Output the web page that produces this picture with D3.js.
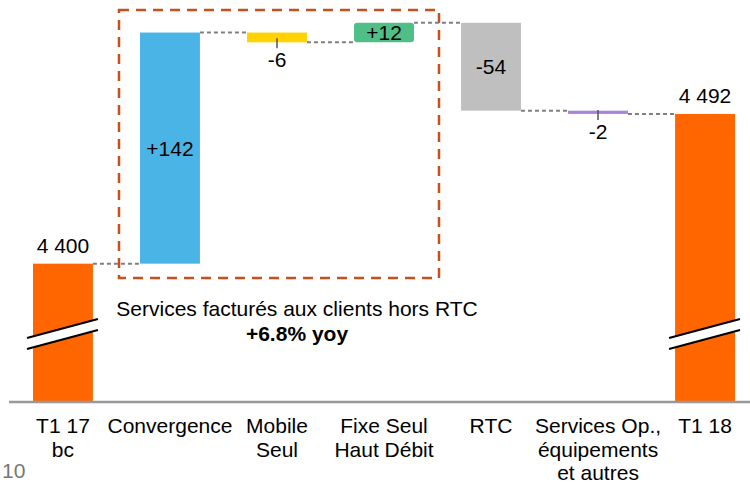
<!DOCTYPE html>
<meta charset="utf-8">
<style>
    body { margin: 0; background: #fff; }
    svg { font-family: "Liberation Sans", Arial, sans-serif; }
    .conn { stroke: #808080; stroke-width: 2; stroke-dasharray: 4,3; fill: none; }
    .lbl { font-size: 21px; fill: #000; text-anchor: middle; }
    .axis text { font-size: 21px; fill: #000; }
</style>
<svg width="750" height="483"></svg>
<script src="https://cdn.jsdelivr.net/npm/d3@7"></script>
<script>

    var categories = ["T1 17|bc", "Convergence", "Mobile|Seul", "Fixe Seul|Haut Débit", "RTC", "Services Op.,|équipements|et autres", "T1 18"];
    var values = [4400, 142, -6, 12, -54, -2, 4492];
    var kinds = ["total", "delta", "delta", "delta", "delta", "delta", "total"];
    var labels = ["4 400", "+142", "-6", "+12", "-54", "-2", "4 492"];
    var colors = ["#ff6600", "#4bb4e6", "#ffd200", "#50be87", "#bfbfbf", "#a885d8", "#ff6600"];

    var svg = d3.select("svg"),
        baseY = 402;

    // build running totals
    var data = [], run = 0;
    values.forEach(function(v, i) {
        var d = {cat: categories[i], label: labels[i], color: colors[i], kind: kinds[i]};
        if (kinds[i] == "total") { d.start = null; d.end = v; run = v; }
        else { d.start = run; d.end = run + v; run = d.end; }
        data.push(d);
    });

    var x = d3.scaleBand()
        .domain(categories)
        .range([33, 735])
        .paddingInner(0.44)
        .paddingOuter(0);

    var y = d3.scaleLinear()
        .domain([4315, 4562])
        .range([baseY, 0]);

    // dashed highlight box
    svg.append("rect")
        .attr("x", 119).attr("y", 10)
        .attr("width", 320).attr("height", 268)
        .attr("fill", "none")
        .attr("stroke", "#c8501e")
        .attr("stroke-width", 2.5)
        .attr("stroke-dasharray", "10,7");

    // connectors
    for (var i = 0; i < data.length - 1; i++) {
        var lv = data[i].end;
        svg.append("line").attr("class", "conn")
            .attr("x1", x(data[i].cat) + x.bandwidth())
            .attr("x2", x(data[i + 1].cat))
            .attr("y1", y(lv)).attr("y2", y(lv));
    }

    // bars
    svg.selectAll(".bar")
        .data(data)
        .enter().append("rect")
        .attr("class", "bar")
        .attr("x", function(d) { return x(d.cat); })
        .attr("width", x.bandwidth())
        .attr("y", function(d) {
            return d.kind == "total" ? y(d.end) : y(Math.max(d.start, d.end));
        })
        .attr("height", function(d) {
            if (d.kind == "total") return baseY - y(d.end);
            return Math.max(2, Math.abs(y(d.start) - y(d.end)));
        })
        .attr("rx", function(d) { return d.color == "#50be87" ? 3 : 0; })
        .attr("fill", function(d) { return d.color; });

    // value labels
    data.forEach(function(d) {
        var cx = x(d.cat) + x.bandwidth() / 2;
        if (d.kind == "total") {
            svg.append("text").attr("class", "lbl")
                .attr("x", cx).attr("y", y(d.end) - 11)
                .text(d.label);
            return;
        }
        var top = y(Math.max(d.start, d.end)), bot = y(Math.min(d.start, d.end));
        if (bot - top > 15) {
            svg.append("text").attr("class", "lbl")
                .attr("x", cx).attr("y", (top + bot) / 2 + 7.5)
                .text(d.label);
        } else {
            var b = Math.max(bot, top + 2);
            svg.append("line")
                .attr("x1", cx).attr("x2", cx)
                .attr("y1", b - 4).attr("y2", b + 6)
                .attr("stroke", "#555").attr("stroke-width", 1.5);
            svg.append("text").attr("class", "lbl")
                .attr("x", cx).attr("y", b + 25)
                .text(d.label);
        }
    });

    // axis break marks
    [data[0], data[6]].forEach(function(d) {
        var x0 = x(d.cat) - 6, x1 = x(d.cat) + x.bandwidth() + 5;
        var g = svg.append("g");
        g.append("polygon")
            .attr("points", [[x0, 338], [x1, 319], [x1, 330], [x0, 349]].join(" "))
            .attr("fill", "#fff");
        g.append("line").attr("x1", x0).attr("y1", 338).attr("x2", x1).attr("y2", 319)
            .attr("stroke", "#000").attr("stroke-width", 2);
        g.append("line").attr("x1", x0).attr("y1", 349).attr("x2", x1).attr("y2", 330)
            .attr("stroke", "#000").attr("stroke-width", 2);
    });

    // x axis
    var ax = svg.append("g")
        .attr("class", "axis")
        .attr("transform", "translate(0," + baseY + ")")
        .call(d3.axisBottom(x).tickSize(0).tickPadding(0));
    ax.select(".domain").remove();
    ax.selectAll(".tick text")
        .attr("font-family", null).attr("font-size", null)
        .text(null)
        .each(function(c) {
            var t = d3.select(this);
            c.split("|").forEach(function(s, k) {
                t.append("tspan").attr("x", 0).attr("y", 31 + k * 23.5).text(s);
            });
        })
        .attr("dy", null);

    svg.append("line")
        .attr("x1", 9).attr("x2", 750)
        .attr("y1", baseY).attr("y2", baseY)
        .attr("stroke", "#999").attr("stroke-width", 2.5);

    // annotation
    svg.append("text").attr("class", "lbl")
        .attr("x", 297).attr("y", 316)
        .text("Services facturés aux clients hors RTC");
    svg.append("text").attr("class", "lbl")
        .attr("x", 297).attr("y", 341)
        .attr("font-weight", "bold")
        .text("+6.8% yoy");

    // page number
    svg.append("text")
        .attr("x", 2).attr("y", 478)
        .attr("font-size", 21).attr("fill", "#777")
        .text("10");

</script>
